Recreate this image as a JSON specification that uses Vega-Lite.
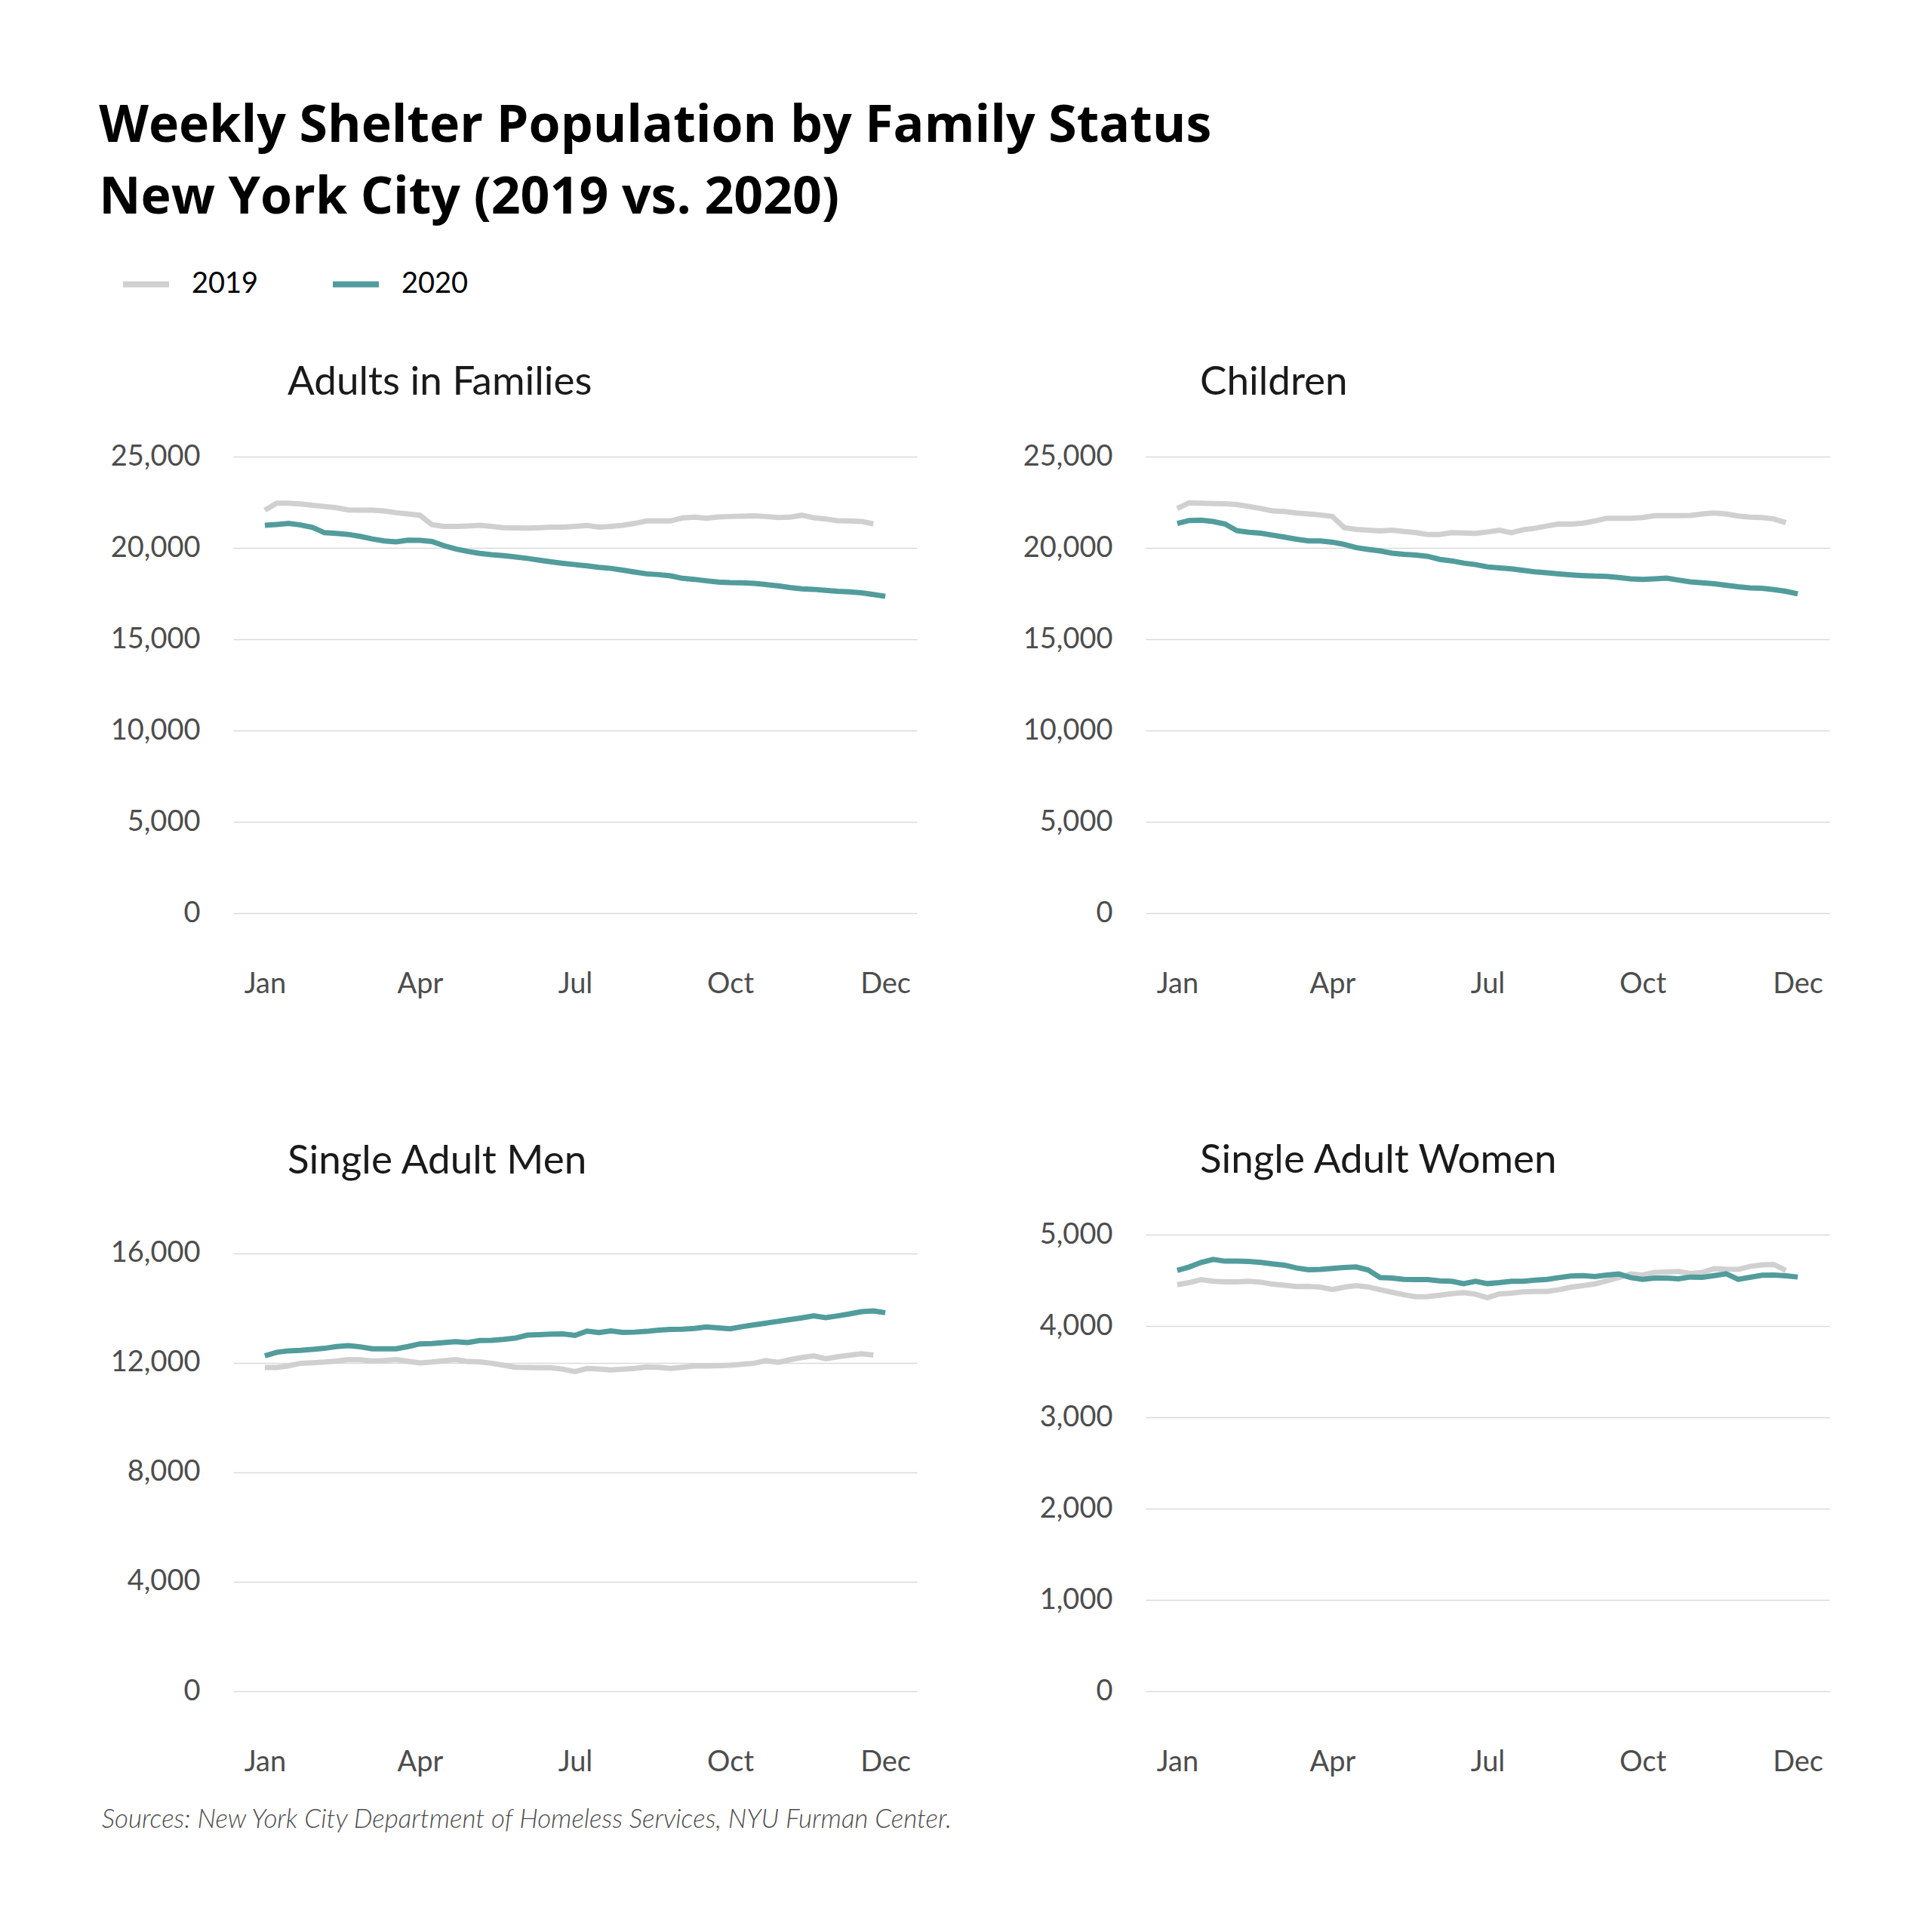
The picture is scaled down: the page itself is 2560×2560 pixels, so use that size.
{
  "$schema": "https://vega.github.io/schema/vega-lite/v6.json",
  "background": "white",
  "padding": {"left": 131, "top": 134, "right": 60, "bottom": 60},
  "title": {
    "text": ["Weekly Shelter Population by Family Status", "New York City (2019 vs. 2020)"],
    "anchor": "start",
    "frame": "bounds",
    "dx": -3.5,
    "fontSize": 68,
    "fontWeight": "bold",
    "font": "Open Sans",
    "color": "#000000",
    "lineHeight": 95,
    "offset": 45
  },
  "datasets": {
    "adults": [
      {"year":"2019","week":1,"value":22063},{"year":"2019","week":2,"value":22445},{"year":"2019","week":3,"value":22445},{"year":"2019","week":4,"value":22404},{"year":"2019","week":5,"value":22336},{"year":"2019","week":6,"value":22268},{"year":"2019","week":7,"value":22199},{"year":"2019","week":8,"value":22076},{"year":"2019","week":9,"value":22063},{"year":"2019","week":10,"value":22063},{"year":"2019","week":11,"value":22022},{"year":"2019","week":12,"value":21926},{"year":"2019","week":13,"value":21858},{"year":"2019","week":14,"value":21790},{"year":"2019","week":15,"value":21270},{"year":"2019","week":16,"value":21175},{"year":"2019","week":17,"value":21175},{"year":"2019","week":18,"value":21202},{"year":"2019","week":19,"value":21243},{"year":"2019","week":20,"value":21175},{"year":"2019","week":21,"value":21106},{"year":"2019","week":22,"value":21093},{"year":"2019","week":23,"value":21080},{"year":"2019","week":24,"value":21106},{"year":"2019","week":25,"value":21134},{"year":"2019","week":26,"value":21134},{"year":"2019","week":27,"value":21175},{"year":"2019","week":28,"value":21230},{"year":"2019","week":29,"value":21134},{"year":"2019","week":30,"value":21175},{"year":"2019","week":31,"value":21243},{"year":"2019","week":32,"value":21340},{"year":"2019","week":33,"value":21475},{"year":"2019","week":34,"value":21475},{"year":"2019","week":35,"value":21475},{"year":"2019","week":36,"value":21640},{"year":"2019","week":37,"value":21680},{"year":"2019","week":38,"value":21625},{"year":"2019","week":39,"value":21695},{"year":"2019","week":40,"value":21720},{"year":"2019","week":41,"value":21735},{"year":"2019","week":42,"value":21760},{"year":"2019","week":43,"value":21720},{"year":"2019","week":44,"value":21665},{"year":"2019","week":45,"value":21680},{"year":"2019","week":46,"value":21790},{"year":"2019","week":47,"value":21650},{"year":"2019","week":48,"value":21585},{"year":"2019","week":49,"value":21490},{"year":"2019","week":50,"value":21475},{"year":"2019","week":51,"value":21450},{"year":"2019","week":52,"value":21311},
      {"year":"2020","week":1,"value":21243},{"year":"2020","week":2,"value":21284},{"year":"2020","week":3,"value":21339},{"year":"2020","week":4,"value":21257},{"year":"2020","week":5,"value":21120},{"year":"2020","week":6,"value":20833},{"year":"2020","week":7,"value":20792},{"year":"2020","week":8,"value":20738},{"year":"2020","week":9,"value":20628},{"year":"2020","week":10,"value":20492},{"year":"2020","week":11,"value":20382},{"year":"2020","week":12,"value":20328},{"year":"2020","week":13,"value":20423},{"year":"2020","week":14,"value":20410},{"year":"2020","week":15,"value":20355},{"year":"2020","week":16,"value":20123},{"year":"2020","week":17,"value":19945},{"year":"2020","week":18,"value":19809},{"year":"2020","week":19,"value":19700},{"year":"2020","week":20,"value":19631},{"year":"2020","week":21,"value":19577},{"year":"2020","week":22,"value":19508},{"year":"2020","week":23,"value":19426},{"year":"2020","week":24,"value":19331},{"year":"2020","week":25,"value":19235},{"year":"2020","week":26,"value":19153},{"year":"2020","week":27,"value":19085},{"year":"2020","week":28,"value":19016},{"year":"2020","week":29,"value":18934},{"year":"2020","week":30,"value":18880},{"year":"2020","week":31,"value":18784},{"year":"2020","week":32,"value":18675},{"year":"2020","week":33,"value":18579},{"year":"2020","week":34,"value":18538},{"year":"2020","week":35,"value":18470},{"year":"2020","week":36,"value":18333},{"year":"2020","week":37,"value":18279},{"year":"2020","week":38,"value":18197},{"year":"2020","week":39,"value":18129},{"year":"2020","week":40,"value":18101},{"year":"2020","week":41,"value":18088},{"year":"2020","week":42,"value":18060},{"year":"2020","week":43,"value":17992},{"year":"2020","week":44,"value":17924},{"year":"2020","week":45,"value":17828},{"year":"2020","week":46,"value":17760},{"year":"2020","week":47,"value":17732},{"year":"2020","week":48,"value":17678},{"year":"2020","week":49,"value":17623},{"year":"2020","week":50,"value":17596},{"year":"2020","week":51,"value":17541},{"year":"2020","week":52,"value":17446},{"year":"2020","week":53,"value":17350}
    ],
    "children": [
      {"year":"2019","week":1,"value":22158},{"year":"2019","week":2,"value":22472},{"year":"2019","week":3,"value":22445},{"year":"2019","week":4,"value":22431},{"year":"2019","week":5,"value":22418},{"year":"2019","week":6,"value":22377},{"year":"2019","week":7,"value":22268},{"year":"2019","week":8,"value":22158},{"year":"2019","week":9,"value":22022},{"year":"2019","week":10,"value":21994},{"year":"2019","week":11,"value":21912},{"year":"2019","week":12,"value":21858},{"year":"2019","week":13,"value":21803},{"year":"2019","week":14,"value":21721},{"year":"2019","week":15,"value":21106},{"year":"2019","week":16,"value":21011},{"year":"2019","week":17,"value":20970},{"year":"2019","week":18,"value":20929},{"year":"2019","week":19,"value":20970},{"year":"2019","week":20,"value":20902},{"year":"2019","week":21,"value":20833},{"year":"2019","week":22,"value":20738},{"year":"2019","week":23,"value":20738},{"year":"2019","week":24,"value":20833},{"year":"2019","week":25,"value":20820},{"year":"2019","week":26,"value":20792},{"year":"2019","week":27,"value":20874},{"year":"2019","week":28,"value":20970},{"year":"2019","week":29,"value":20833},{"year":"2019","week":30,"value":20997},{"year":"2019","week":31,"value":21079},{"year":"2019","week":32,"value":21202},{"year":"2019","week":33,"value":21311},{"year":"2019","week":34,"value":21298},{"year":"2019","week":35,"value":21352},{"year":"2019","week":36,"value":21475},{"year":"2019","week":37,"value":21625},{"year":"2019","week":38,"value":21625},{"year":"2019","week":39,"value":21625},{"year":"2019","week":40,"value":21666},{"year":"2019","week":41,"value":21762},{"year":"2019","week":42,"value":21762},{"year":"2019","week":43,"value":21762},{"year":"2019","week":44,"value":21776},{"year":"2019","week":45,"value":21858},{"year":"2019","week":46,"value":21912},{"year":"2019","week":47,"value":21858},{"year":"2019","week":48,"value":21748},{"year":"2019","week":49,"value":21680},{"year":"2019","week":50,"value":21666},{"year":"2019","week":51,"value":21585},{"year":"2019","week":52,"value":21380},
      {"year":"2020","week":1,"value":21339},{"year":"2020","week":2,"value":21503},{"year":"2020","week":3,"value":21516},{"year":"2020","week":4,"value":21448},{"year":"2020","week":5,"value":21311},{"year":"2020","week":6,"value":20943},{"year":"2020","week":7,"value":20861},{"year":"2020","week":8,"value":20806},{"year":"2020","week":9,"value":20697},{"year":"2020","week":10,"value":20588},{"year":"2020","week":11,"value":20478},{"year":"2020","week":12,"value":20382},{"year":"2020","week":13,"value":20382},{"year":"2020","week":14,"value":20314},{"year":"2020","week":15,"value":20191},{"year":"2020","week":16,"value":20014},{"year":"2020","week":17,"value":19918},{"year":"2020","week":18,"value":19836},{"year":"2020","week":19,"value":19713},{"year":"2020","week":20,"value":19645},{"year":"2020","week":21,"value":19604},{"year":"2020","week":22,"value":19536},{"year":"2020","week":23,"value":19372},{"year":"2020","week":24,"value":19290},{"year":"2020","week":25,"value":19167},{"year":"2020","week":26,"value":19085},{"year":"2020","week":27,"value":18962},{"year":"2020","week":28,"value":18907},{"year":"2020","week":29,"value":18852},{"year":"2020","week":30,"value":18770},{"year":"2020","week":31,"value":18689},{"year":"2020","week":32,"value":18634},{"year":"2020","week":33,"value":18579},{"year":"2020","week":34,"value":18525},{"year":"2020","week":35,"value":18484},{"year":"2020","week":36,"value":18456},{"year":"2020","week":37,"value":18443},{"year":"2020","week":38,"value":18374},{"year":"2020","week":39,"value":18306},{"year":"2020","week":40,"value":18279},{"year":"2020","week":41,"value":18306},{"year":"2020","week":42,"value":18347},{"year":"2020","week":43,"value":18238},{"year":"2020","week":44,"value":18142},{"year":"2020","week":45,"value":18088},{"year":"2020","week":46,"value":18033},{"year":"2020","week":47,"value":17951},{"year":"2020","week":48,"value":17869},{"year":"2020","week":49,"value":17814},{"year":"2020","week":50,"value":17787},{"year":"2020","week":51,"value":17719},{"year":"2020","week":52,"value":17623},{"year":"2020","week":53,"value":17486}
    ],
    "men": [
      {"year":"2019","week":1,"value":11827},{"year":"2019","week":2,"value":11827},{"year":"2019","week":3,"value":11891},{"year":"2019","week":4,"value":11982},{"year":"2019","week":5,"value":12000},{"year":"2019","week":6,"value":12027},{"year":"2019","week":7,"value":12064},{"year":"2019","week":8,"value":12118},{"year":"2019","week":9,"value":12109},{"year":"2019","week":10,"value":12064},{"year":"2019","week":11,"value":12082},{"year":"2019","week":12,"value":12118},{"year":"2019","week":13,"value":12055},{"year":"2019","week":14,"value":11991},{"year":"2019","week":15,"value":12027},{"year":"2019","week":16,"value":12073},{"year":"2019","week":17,"value":12118},{"year":"2019","week":18,"value":12046},{"year":"2019","week":19,"value":12036},{"year":"2019","week":20,"value":11982},{"year":"2019","week":21,"value":11909},{"year":"2019","week":22,"value":11836},{"year":"2019","week":23,"value":11827},{"year":"2019","week":24,"value":11818},{"year":"2019","week":25,"value":11818},{"year":"2019","week":26,"value":11763},{"year":"2019","week":27,"value":11681},{"year":"2019","week":28,"value":11791},{"year":"2019","week":29,"value":11772},{"year":"2019","week":30,"value":11736},{"year":"2019","week":31,"value":11763},{"year":"2019","week":32,"value":11791},{"year":"2019","week":33,"value":11845},{"year":"2019","week":34,"value":11836},{"year":"2019","week":35,"value":11791},{"year":"2019","week":36,"value":11836},{"year":"2019","week":37,"value":11882},{"year":"2019","week":38,"value":11882},{"year":"2019","week":39,"value":11891},{"year":"2019","week":40,"value":11909},{"year":"2019","week":41,"value":11945},{"year":"2019","week":42,"value":11982},{"year":"2019","week":43,"value":12082},{"year":"2019","week":44,"value":12018},{"year":"2019","week":45,"value":12109},{"year":"2019","week":46,"value":12191},{"year":"2019","week":47,"value":12255},{"year":"2019","week":48,"value":12146},{"year":"2019","week":49,"value":12219},{"year":"2019","week":50,"value":12273},{"year":"2019","week":51,"value":12328},{"year":"2019","week":52,"value":12282},
      {"year":"2020","week":1,"value":12255},{"year":"2020","week":2,"value":12383},{"year":"2020","week":3,"value":12437},{"year":"2020","week":4,"value":12455},{"year":"2020","week":5,"value":12492},{"year":"2020","week":6,"value":12528},{"year":"2020","week":7,"value":12592},{"year":"2020","week":8,"value":12628},{"year":"2020","week":9,"value":12583},{"year":"2020","week":10,"value":12510},{"year":"2020","week":11,"value":12510},{"year":"2020","week":12,"value":12510},{"year":"2020","week":13,"value":12592},{"year":"2020","week":14,"value":12692},{"year":"2020","week":15,"value":12701},{"year":"2020","week":16,"value":12738},{"year":"2020","week":17,"value":12774},{"year":"2020","week":18,"value":12738},{"year":"2020","week":19,"value":12811},{"year":"2020","week":20,"value":12820},{"year":"2020","week":21,"value":12856},{"year":"2020","week":22,"value":12902},{"year":"2020","week":23,"value":13011},{"year":"2020","week":24,"value":13029},{"year":"2020","week":25,"value":13047},{"year":"2020","week":26,"value":13056},{"year":"2020","week":27,"value":13002},{"year":"2020","week":28,"value":13157},{"year":"2020","week":29,"value":13102},{"year":"2020","week":30,"value":13166},{"year":"2020","week":31,"value":13111},{"year":"2020","week":32,"value":13120},{"year":"2020","week":33,"value":13148},{"year":"2020","week":34,"value":13193},{"year":"2020","week":35,"value":13220},{"year":"2020","week":36,"value":13229},{"year":"2020","week":37,"value":13257},{"year":"2020","week":38,"value":13311},{"year":"2020","week":39,"value":13275},{"year":"2020","week":40,"value":13239},{"year":"2020","week":41,"value":13320},{"year":"2020","week":42,"value":13384},{"year":"2020","week":43,"value":13448},{"year":"2020","week":44,"value":13512},{"year":"2020","week":45,"value":13576},{"year":"2020","week":46,"value":13639},{"year":"2020","week":47,"value":13712},{"year":"2020","week":48,"value":13648},{"year":"2020","week":49,"value":13712},{"year":"2020","week":50,"value":13785},{"year":"2020","week":51,"value":13867},{"year":"2020","week":52,"value":13894},{"year":"2020","week":53,"value":13830}
    ],
    "women": [
      {"year":"2019","week":1,"value":4453},{"year":"2019","week":2,"value":4475},{"year":"2019","week":3,"value":4508},{"year":"2019","week":4,"value":4489},{"year":"2019","week":5,"value":4483},{"year":"2019","week":6,"value":4483},{"year":"2019","week":7,"value":4489},{"year":"2019","week":8,"value":4480},{"year":"2019","week":9,"value":4458},{"year":"2019","week":10,"value":4447},{"year":"2019","week":11,"value":4431},{"year":"2019","week":12,"value":4434},{"year":"2019","week":13,"value":4425},{"year":"2019","week":14,"value":4400},{"year":"2019","week":15,"value":4425},{"year":"2019","week":16,"value":4442},{"year":"2019","week":17,"value":4428},{"year":"2019","week":18,"value":4398},{"year":"2019","week":19,"value":4370},{"year":"2019","week":20,"value":4342},{"year":"2019","week":21,"value":4320},{"year":"2019","week":22,"value":4323},{"year":"2019","week":23,"value":4337},{"year":"2019","week":24,"value":4354},{"year":"2019","week":25,"value":4365},{"year":"2019","week":26,"value":4348},{"year":"2019","week":27,"value":4309},{"year":"2019","week":28,"value":4351},{"year":"2019","week":29,"value":4359},{"year":"2019","week":30,"value":4373},{"year":"2019","week":31,"value":4378},{"year":"2019","week":32,"value":4378},{"year":"2019","week":33,"value":4398},{"year":"2019","week":34,"value":4425},{"year":"2019","week":35,"value":4442},{"year":"2019","week":36,"value":4461},{"year":"2019","week":37,"value":4494},{"year":"2019","week":38,"value":4530},{"year":"2019","week":39,"value":4569},{"year":"2019","week":40,"value":4558},{"year":"2019","week":41,"value":4586},{"year":"2019","week":42,"value":4591},{"year":"2019","week":43,"value":4597},{"year":"2019","week":44,"value":4575},{"year":"2019","week":45,"value":4586},{"year":"2019","week":46,"value":4627},{"year":"2019","week":47,"value":4621},{"year":"2019","week":48,"value":4619},{"year":"2019","week":49,"value":4652},{"year":"2019","week":50,"value":4669},{"year":"2019","week":51,"value":4674},{"year":"2019","week":52,"value":4608},
      {"year":"2020","week":1,"value":4608},{"year":"2020","week":2,"value":4646},{"year":"2020","week":3,"value":4696},{"year":"2020","week":4,"value":4729},{"year":"2020","week":5,"value":4710},{"year":"2020","week":6,"value":4710},{"year":"2020","week":7,"value":4707},{"year":"2020","week":8,"value":4696},{"year":"2020","week":9,"value":4679},{"year":"2020","week":10,"value":4666},{"year":"2020","week":11,"value":4635},{"year":"2020","week":12,"value":4616},{"year":"2020","week":13,"value":4619},{"year":"2020","week":14,"value":4630},{"year":"2020","week":15,"value":4641},{"year":"2020","week":16,"value":4646},{"year":"2020","week":17,"value":4613},{"year":"2020","week":18,"value":4530},{"year":"2020","week":19,"value":4525},{"year":"2020","week":20,"value":4511},{"year":"2020","week":21,"value":4508},{"year":"2020","week":22,"value":4508},{"year":"2020","week":23,"value":4494},{"year":"2020","week":24,"value":4489},{"year":"2020","week":25,"value":4464},{"year":"2020","week":26,"value":4489},{"year":"2020","week":27,"value":4464},{"year":"2020","week":28,"value":4475},{"year":"2020","week":29,"value":4489},{"year":"2020","week":30,"value":4489},{"year":"2020","week":31,"value":4503},{"year":"2020","week":32,"value":4511},{"year":"2020","week":33,"value":4530},{"year":"2020","week":34,"value":4547},{"year":"2020","week":35,"value":4552},{"year":"2020","week":36,"value":4541},{"year":"2020","week":37,"value":4558},{"year":"2020","week":38,"value":4569},{"year":"2020","week":39,"value":4530},{"year":"2020","week":40,"value":4511},{"year":"2020","week":41,"value":4525},{"year":"2020","week":42,"value":4525},{"year":"2020","week":43,"value":4516},{"year":"2020","week":44,"value":4536},{"year":"2020","week":45,"value":4533},{"year":"2020","week":46,"value":4552},{"year":"2020","week":47,"value":4572},{"year":"2020","week":48,"value":4511},{"year":"2020","week":49,"value":4533},{"year":"2020","week":50,"value":4555},{"year":"2020","week":51,"value":4558},{"year":"2020","week":52,"value":4550},{"year":"2020","week":53,"value":4536}
    ]
  },
  "vconcat": [
    {
      "title": {
        "text": "Sources: New York City Department of Homeless Services, NYU Furman Center.",
        "orient": "bottom",
        "anchor": "start",
        "frame": "bounds",
        "dx": -11.5,
        "fontSize": 35,
        "fontStyle": "italic",
        "fontWeight": 300,
        "font": "Lato",
        "color": "#4d4d4d",
        "offset": 40
      },
      "columns": 2,
      "spacing": {"row": 189, "column": 140},
      "resolve": {"scale": {"x": "independent", "y": "independent"}},
      "concat": [
        {
          "width": 906, "height": 605,
          "data": {"name": "adults"},
          "title": {"text": "Adults in Families"},
          "mark": {"type": "line", "strokeWidth": 7},
          "encoding": {
            "x": {"field": "week", "type": "quantitative", "scale": {"domain": [-1.65, 55.65], "nice": false, "zero": false},
                  "axis": {"values": [1, 14, 27, 40, 53], "labelExpr": "datum.value == 1 ? 'Jan' : datum.value == 14 ? 'Apr' : datum.value == 27 ? 'Jul' : datum.value == 40 ? 'Oct' : 'Dec'", "grid": false, "labelPadding": 75}},
            "y": {"field": "value", "type": "quantitative", "scale": {"domain": [0, 25000], "nice": false},
                  "axis": {"values": [0, 5000, 10000, 15000, 20000, 25000], "format": ",d", "labelPadding": 44}},
            "color": {"field": "year", "type": "nominal", "scale": {"domain": ["2019", "2020"], "range": ["#d0d0d0", "#529c9c"]}, "legend": {"title": null}}
          }
        },
        {
          "width": 906, "height": 605,
          "data": {"name": "children"},
          "title": {"text": "Children"},
          "mark": {"type": "line", "strokeWidth": 7},
          "encoding": {
            "x": {"field": "week", "type": "quantitative", "scale": {"domain": [-1.65, 55.65], "nice": false, "zero": false},
                  "axis": {"values": [1, 14, 27, 40, 53], "labelExpr": "datum.value == 1 ? 'Jan' : datum.value == 14 ? 'Apr' : datum.value == 27 ? 'Jul' : datum.value == 40 ? 'Oct' : 'Dec'", "grid": false, "labelPadding": 75}},
            "y": {"field": "value", "type": "quantitative", "scale": {"domain": [0, 25000], "nice": false},
                  "axis": {"values": [0, 5000, 10000, 15000, 20000, 25000], "format": ",d", "labelPadding": 44}},
            "color": {"field": "year", "type": "nominal", "scale": {"domain": ["2019", "2020"], "range": ["#d0d0d0", "#529c9c"]}, "legend": {"title": null}}
          }
        },
        {
          "width": 906, "height": 605,
          "data": {"name": "men"},
          "title": {"text": "Single Adult Men", "offset": 70},
          "mark": {"type": "line", "strokeWidth": 7},
          "encoding": {
            "x": {"field": "week", "type": "quantitative", "scale": {"domain": [-1.65, 55.65], "nice": false, "zero": false},
                  "axis": {"values": [1, 14, 27, 40, 53], "labelExpr": "datum.value == 1 ? 'Jan' : datum.value == 14 ? 'Apr' : datum.value == 27 ? 'Jul' : datum.value == 40 ? 'Oct' : 'Dec'", "grid": false, "labelPadding": 75}},
            "y": {"field": "value", "type": "quantitative", "scale": {"domain": [0, 16680], "nice": false},
                  "axis": {"values": [0, 4000, 8000, 12000, 16000], "format": ",d", "labelPadding": 44}},
            "color": {"field": "year", "type": "nominal", "scale": {"domain": ["2019", "2020"], "range": ["#d0d0d0", "#529c9c"]}, "legend": {"title": null}}
          }
        },
        {
          "width": 906, "height": 605,
          "data": {"name": "women"},
          "title": {"text": "Single Adult Women"},
          "mark": {"type": "line", "strokeWidth": 7},
          "encoding": {
            "x": {"field": "week", "type": "quantitative", "scale": {"domain": [-1.65, 55.65], "nice": false, "zero": false},
                  "axis": {"values": [1, 14, 27, 40, 53], "labelExpr": "datum.value == 1 ? 'Jan' : datum.value == 14 ? 'Apr' : datum.value == 27 ? 'Jul' : datum.value == 40 ? 'Oct' : 'Dec'", "grid": false, "labelPadding": 75}},
            "y": {"field": "value", "type": "quantitative", "scale": {"domain": [0, 5000], "nice": false},
                  "axis": {"values": [0, 1000, 2000, 3000, 4000, 5000], "format": ",d", "labelPadding": 44}},
            "color": {"field": "year", "type": "nominal", "scale": {"domain": ["2019", "2020"], "range": ["#d0d0d0", "#529c9c"]}, "legend": {"title": null}}
          }
        }
      ]
    }
  ],
  "config": {
    "font": "Lato",
    "view": {"stroke": null},
    "axis": {
      "labelFont": "Lato",
      "labelColor": "#4d4d4d",
      "labelFontSize": 38,
      "domain": false,
      "ticks": false,
      "gridColor": "#dadada",
      "gridWidth": 1.5,
      "title": null,
      "labelFlush": false,
      "labelOverlap": false
    },
    "title": {
      "anchor": "start",
      "frame": "group",
      "dx": 72,
      "font": "Lato",
      "fontSize": 53,
      "fontWeight": "normal",
      "color": "#1a1a1a",
      "offset": 52
    },
    "legend": {
      "orient": "none",
      "legendX": -150,
      "legendY": -263,
      "direction": "horizontal",
      "symbolType": "stroke",
      "symbolSize": 3721,
      "symbolStrokeWidth": 8,
      "labelFont": "Lato",
      "labelFontSize": 38,
      "labelColor": "#000000",
      "labelOffset": 26,
      "columnPadding": 82
    }
  }
}
